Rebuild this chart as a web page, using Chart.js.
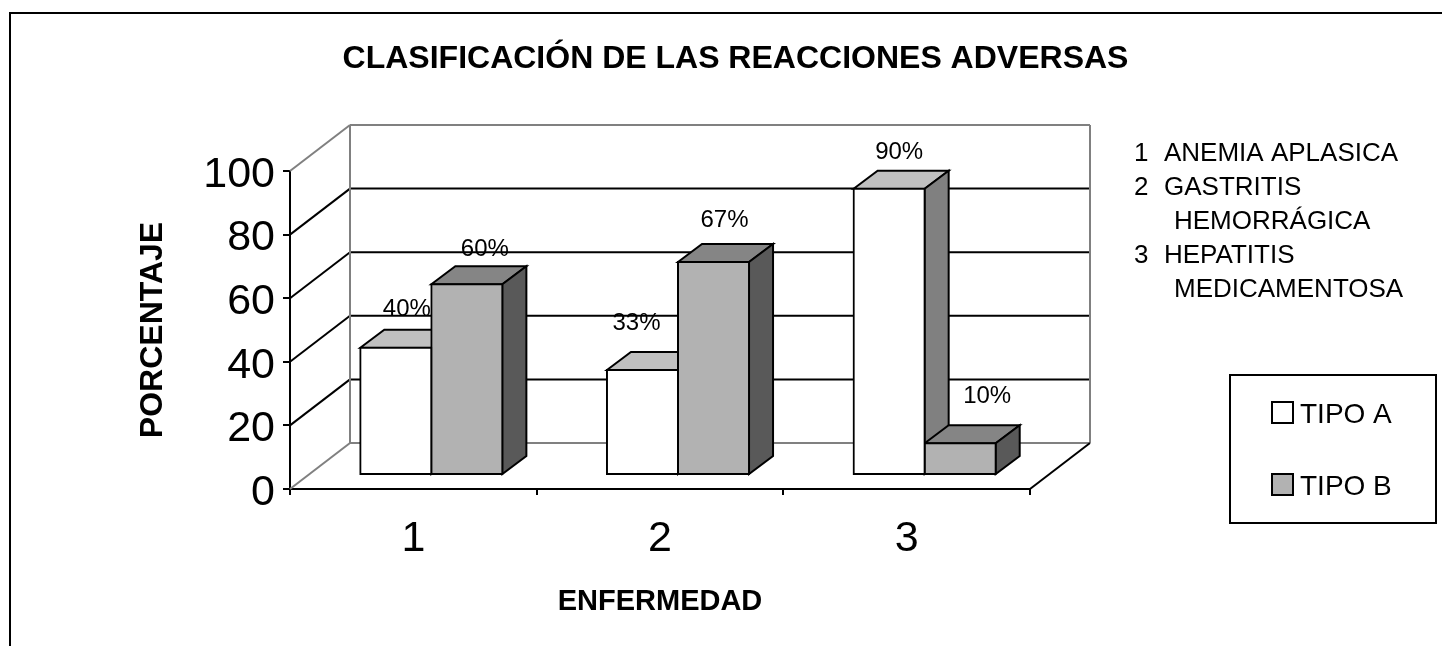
<!DOCTYPE html>
<html>
<head>
<meta charset="utf-8">
<style>html,body{margin:0;padding:0;background:#fff}canvas{display:block}</style>
<script src="https://cdn.jsdelivr.net/npm/chart.js@4"></script>
</head>
<body>
<canvas id="c" width="1442" height="646"></canvas>
<script>
const categories = ['1', '2', '3'];
const tipoA = [40, 33, 90];
const tipoB = [60, 67, 10];
const seriesNames = ['TIPO A', 'TIPO B'];
const noteNumbers = ['1', '2', '', '3', ''];
const noteLines = ['ANEMIA APLASICA', 'GASTRITIS', 'HEMORRÁGICA', 'HEPATITIS', 'MEDICAMENTOSA'];
const chartTitle = 'CLASIFICACIÓN DE LAS REACCIONES ADVERSAS';
const xTitle = 'ENFERMEDAD';
const yTitle = 'PORCENTAJE';

const FONT = '"Liberation Sans", Arial, sans-serif';
const WALL = {dx: 60, dy: -46};
const FRONT = {dx: 18, dy: -14};
const BAR = {dx: 24, dy: -18};
const labelNudgeA = [[11, -38], [-6, -47], [10, -36]];
const labelNudgeB = [[18, -35], [11, -42], [27, -47]];
const faces = [
  {front: '#ffffff', top: '#c0c0c0', side: '#808080'},
  {front: '#b2b2b2', top: '#858585', side: '#595959'}
];

function seg(ctx, x1, y1, x2, y2, color) {
  ctx.strokeStyle = color; ctx.lineWidth = 2;
  ctx.beginPath(); ctx.moveTo(x1, y1); ctx.lineTo(x2, y2); ctx.stroke();
}
function poly(ctx, pts, fill) {
  ctx.fillStyle = fill; ctx.strokeStyle = '#000'; ctx.lineWidth = 2; ctx.lineJoin = 'miter';
  ctx.beginPath();
  pts.forEach((p, i) => i ? ctx.lineTo(p[0], p[1]) : ctx.moveTo(p[0], p[1]));
  ctx.closePath(); ctx.fill(); ctx.stroke();
}

const threeD = {
  id: 'threeD',
  beforeDraw(chart) {
    const {ctx, width, height} = chart;
    ctx.save();
    ctx.fillStyle = '#fff'; ctx.fillRect(0, 0, width, height);
    seg(ctx, 1442, 13, 9, 13, '#000');
    seg(ctx, 10, 13, 10, 646, '#000');
    ctx.restore();
  },
  afterLayout(chart) {
    chart.titleBlock.left = 29;
    chart.titleBlock.right = 1442;
  },
  beforeDatasetsDraw(chart) {
    const {ctx, chartArea: a, scales: {y}} = chart;
    const gray = '#808080';
    const bx = a.left + WALL.dx, bxr = a.right + WALL.dx;
    ctx.save();
    y.ticks.forEach(t => {
      const py = y.getPixelForValue(t.value), by = py + WALL.dy;
      const isEdge = t.value === y.min || t.value === y.max;
      seg(ctx, a.left, py, bx, by, isEdge ? gray : '#000');
      seg(ctx, bx, by, bxr, by, isEdge ? gray : '#000');
    });
    const top = y.getPixelForValue(y.max) + WALL.dy, bot = y.getPixelForValue(y.min) + WALL.dy;
    seg(ctx, bx, top, bx, bot, gray);
    seg(ctx, bxr, top, bxr, bot, gray);
    seg(ctx, bxr, bot, a.right, y.getPixelForValue(y.min), '#000');
    ctx.restore();
  },
  beforeDatasetDraw(chart, args) {
    const {ctx} = chart;
    ctx.save();
    ctx.translate(FRONT.dx, FRONT.dy);
    // The last dataset is painted first: lay down all depth faces, left series first,
    // so the library's front faces then sit on top of them.
    if (args.index !== chart.data.datasets.length - 1) return;
    chart.data.datasets.forEach((d, ds) => {
      const f = faces[ds];
      chart.getDatasetMeta(ds).data.forEach(el => {
        const p = el.getProps(['x', 'y', 'base', 'width'], true);
        const l = p.x - p.width / 2, r = p.x + p.width / 2;
        poly(ctx, [[l, p.y], [l + BAR.dx, p.y + BAR.dy], [r + BAR.dx, p.y + BAR.dy], [r, p.y]], f.top);
        poly(ctx, [[r, p.y], [r + BAR.dx, p.y + BAR.dy], [r + BAR.dx, p.base + BAR.dy], [r, p.base]], f.side);
      });
    });
  },
  afterDatasetDraw(chart) {
    chart.ctx.restore();
  },
  afterDatasetsDraw(chart) {
    const {ctx} = chart;
    ctx.save();
    ctx.font = '24px ' + FONT;
    ctx.fillStyle = '#000';
    ctx.textAlign = 'center';
    ctx.textBaseline = 'middle';
    [labelNudgeA, labelNudgeB].forEach((nudges, ds) => {
      const meta = chart.getDatasetMeta(ds);
      meta.data.forEach((el, i) => {
        const p = el.getProps(['x', 'y'], true);
        const v = chart.data.datasets[ds].data[i];
        ctx.fillText(v + '%', p.x + FRONT.dx + nudges[i][0], p.y + FRONT.dy + nudges[i][1]);
      });
    });
    ctx.restore();
  },
  afterDraw(chart) {
    const {ctx} = chart;
    ctx.save();
    ctx.fillStyle = '#000';
    ctx.textBaseline = 'alphabetic';
    ctx.textAlign = 'left';
    ctx.font = '26px ' + FONT;
    const baselines = [161, 195, 229, 263, 297];
    noteLines.forEach((line, i) => {
      if (noteNumbers[i]) ctx.fillText(noteNumbers[i], 1134, baselines[i]);
      ctx.fillText(line, noteNumbers[i] ? 1164 : 1174, baselines[i]);
    });
    ctx.strokeStyle = '#000'; ctx.lineWidth = 2;
    ctx.strokeRect(1230, 375, 206, 148);
    ctx.font = '28px ' + FONT;
    chart.data.datasets.forEach((d, i) => {
      const sy = 402 + i * 72;
      ctx.fillStyle = d.backgroundColor;
      ctx.fillRect(1272, sy, 21, 21);
      ctx.strokeRect(1272, sy, 21, 21);
      ctx.fillStyle = '#000';
      ctx.fillText(d.label, 1300, sy + 21);
    });
    ctx.restore();
  }
};

new Chart(document.getElementById('c'), {
  type: 'bar',
  data: {
    labels: categories,
    datasets: [
      {label: seriesNames[0], data: tipoA, clip: false, inflateAmount: 1, backgroundColor: faces[0].front, borderColor: '#000', borderWidth: 2, borderSkipped: false},
      {label: seriesNames[1], data: tipoB, clip: false, inflateAmount: 1, backgroundColor: faces[1].front, borderColor: '#000', borderWidth: 2, borderSkipped: false}
    ]
  },
  options: {
    responsive: false,
    animation: false,
    events: [],
    layout: {padding: {left: 0, right: 412, top: 0, bottom: 0}},
    datasets: {bar: {categoryPercentage: 0.576, barPercentage: 1}},
    plugins: {
      legend: {display: false},
      tooltip: {enabled: false},
      title: {
        display: true, text: chartTitle, color: '#000',
        font: {family: FONT, size: 32, weight: 'bold', lineHeight: 1.2},
        padding: {top: 39.8, bottom: 92.8}
      }
    },
    scales: {
      x: {
        afterFit(s) { s.height = 157; },
        grid: {drawOnChartArea: false, color: '#000', lineWidth: 2, tickLength: 6, offset: true},
        border: {color: '#000', width: 2},
        ticks: {color: '#000', font: {family: FONT, size: 43}, padding: 18, maxRotation: 0, autoSkip: false},
        title: {display: true, text: xTitle, color: '#000', font: {family: FONT, size: 29, weight: 'bold', lineHeight: 1.2}, padding: {top: 0, bottom: 27}}
      },
      y: {
        min: 0, max: 100,
        afterFit(s) { s.width = 290; },
        grid: {drawOnChartArea: false, color: '#000', lineWidth: 2, tickLength: 7},
        border: {color: '#000', width: 2},
        ticks: {color: '#000', font: {family: FONT, size: 43}, padding: 8, stepSize: 20, labelOffset: 4},
        title: {display: true, text: yTitle, color: '#000', font: {family: FONT, size: 32, weight: 'bold', lineHeight: 1.2}, padding: {top: 134, bottom: 0}}
      }
    }
  },
  plugins: [threeD]
});
</script>
</body>
</html>
